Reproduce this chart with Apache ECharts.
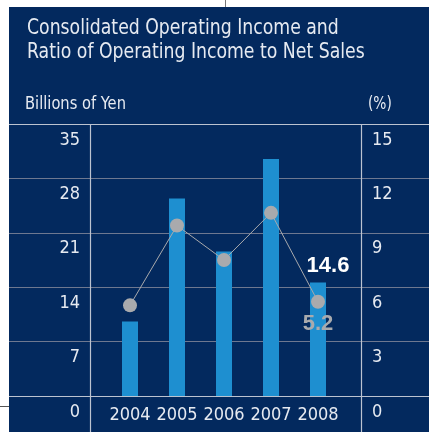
<!DOCTYPE html>
<html>
<head>
<meta charset="utf-8">
<script src="https://cdn.jsdelivr.net/npm/echarts@6/dist/echarts.min.js"></script>
<style>
  html, body { margin: 0; padding: 0; background: #ffffff; }
  #chart { width: 429px; height: 432px; }
</style>
</head>
<body>
<div id="chart"></div>
<script>
// Fiscal years and the two measures plotted against them
const years = ['2004', '2005', '2006', '2007', '2008'];
const operatingIncome = [9.6, 25.4, 18.6, 30.5, 14.6];   // billions of yen (bars)
const operatingRatio = [5.0, 9.4, 7.5, 10.1, 5.2];       // % of net sales (line)

// Axis ranges
const incomeScale = { min: 0, max: 35, interval: 7 };
const ratioScale = { min: 0, max: 15, interval: 3 };

const titleLines = ['Consolidated Operating Income and', 'Ratio of Operating Income to Net Sales'];
const leftUnit = 'Billions of Yen';
const rightUnit = '(%)';

const NAVY = '#03295e';
const BAR = '#1e8fd0';
const DOT = '#a9aaad';
const FRAME = '#bcc3d0';
const RULE = '#6e7890';
const TEXT = '#e6eaf1';
const FONT = "'DejaVu Sans Condensed', 'Liberation Sans', sans-serif";
const BOLD_FONT = "'Liberation Sans', sans-serif";

const chart = echarts.init(document.getElementById('chart'), null, { renderer: 'canvas' });

const lastIdx = years.length - 1;

const tickLabel = (extra) => Object.assign({
  color: TEXT,
  fontFamily: FONT,
  fontSize: 18,
  lineHeight: 20,
  verticalAlign: 'top',
  padding: [6, 0, 0, 0]
}, extra);

chart.setOption({
  backgroundColor: '#ffffff',
  animation: false,
  textStyle: { fontFamily: FONT },
  graphic: [
    // panel and trim lines
    { type: 'rect', z: -10, shape: { x: 9, y: 7, width: 420, height: 425 }, style: { fill: NAVY } },
    { type: 'line', z: -10, shape: { x1: 225.5, y1: 0, x2: 225.5, y2: 7 }, style: { stroke: '#777777', lineWidth: 1 } },
    { type: 'line', z: -10, shape: { x1: 0, y1: 406.5, x2: 9, y2: 406.5 }, style: { stroke: '#555555', lineWidth: 1 } },
    // column dividers between the scale labels and the plot
    { type: 'line', z: 1, shape: { x1: 90.5, y1: 124, x2: 90.5, y2: 432 }, style: { stroke: FRAME, lineWidth: 1.2 } },
    { type: 'line', z: 1, shape: { x1: 361.5, y1: 124, x2: 361.5, y2: 432 }, style: { stroke: FRAME, lineWidth: 1.2 } },
    // headings
    {
      type: 'text', x: 27, y: 17, scaleX: 0.915,
      style: { text: titleLines.join('\n'), fill: TEXT, font: '21px ' + FONT, lineHeight: 24 }
    },
    { type: 'text', x: 25, y: 96, scaleX: 0.96, style: { text: leftUnit, fill: TEXT, font: '17px ' + FONT } },
    { type: 'text', x: 368, y: 96, scaleX: 0.9, style: { text: rightUnit, fill: TEXT, font: '17px ' + FONT } }
  ],
  grid: [
    // full-width frame carrying the horizontal rules
    { left: 9, right: 0, top: 124, bottom: 36 },
    // plotting area for bars and line
    { left: 106.5, width: 235, top: 124, bottom: 36 }
  ],
  xAxis: [
    { type: 'category', gridIndex: 0, data: years, show: false },
    {
      type: 'category', gridIndex: 1, data: years,
      axisLine: { show: false }, axisTick: { show: false },
      axisLabel: { interval: 0, color: TEXT, fontFamily: FONT, fontSize: 18, lineHeight: 20, margin: 9 }
    }
  ],
  yAxis: [
    {
      type: 'value', gridIndex: 0, min: incomeScale.min, max: incomeScale.max, interval: incomeScale.interval,
      axisLine: { show: false }, axisTick: { show: false }, axisLabel: { show: false },
      splitLine: { show: true, lineStyle: { width: 1.2, color: [FRAME, RULE, RULE, RULE, RULE, FRAME] } }
    },
    {
      type: 'value', gridIndex: 1, position: 'left',
      min: incomeScale.min, max: incomeScale.max, interval: incomeScale.interval,
      axisLine: { show: false }, axisTick: { show: false }, splitLine: { show: false },
      axisLabel: tickLabel({ margin: 26.5, align: 'right' })
    },
    {
      type: 'value', gridIndex: 1, position: 'right',
      min: ratioScale.min, max: ratioScale.max, interval: ratioScale.interval,
      axisLine: { show: false }, axisTick: { show: false }, splitLine: { show: false },
      axisLabel: tickLabel({ margin: 30.5, align: 'left' })
    }
  ],
  series: [
    {
      type: 'bar', xAxisIndex: 1, yAxisIndex: 1, barWidth: 16,
      itemStyle: { color: BAR },
      data: operatingIncome.map((v, i) => i === lastIdx ? {
        value: v,
        label: {
          show: true, position: 'top', distance: 6, offset: [10, 0],
          color: '#ffffff', fontFamily: BOLD_FONT, fontWeight: 'bold', fontSize: 22,
          formatter: '{c}'
        }
      } : v)
    },
    {
      type: 'line', xAxisIndex: 1, yAxisIndex: 2, z: 3,
      symbol: 'circle', symbolSize: 14,
      lineStyle: { color: DOT, width: 1 },
      itemStyle: { color: DOT },
      data: operatingRatio.map((v, i) => i === lastIdx ? {
        value: v,
        label: {
          show: true, position: 'bottom', distance: 4,
          color: DOT, fontFamily: BOLD_FONT, fontWeight: 'bold', fontSize: 22,
          formatter: '{c}'
        }
      } : v)
    }
  ]
});
</script>
</body>
</html>
